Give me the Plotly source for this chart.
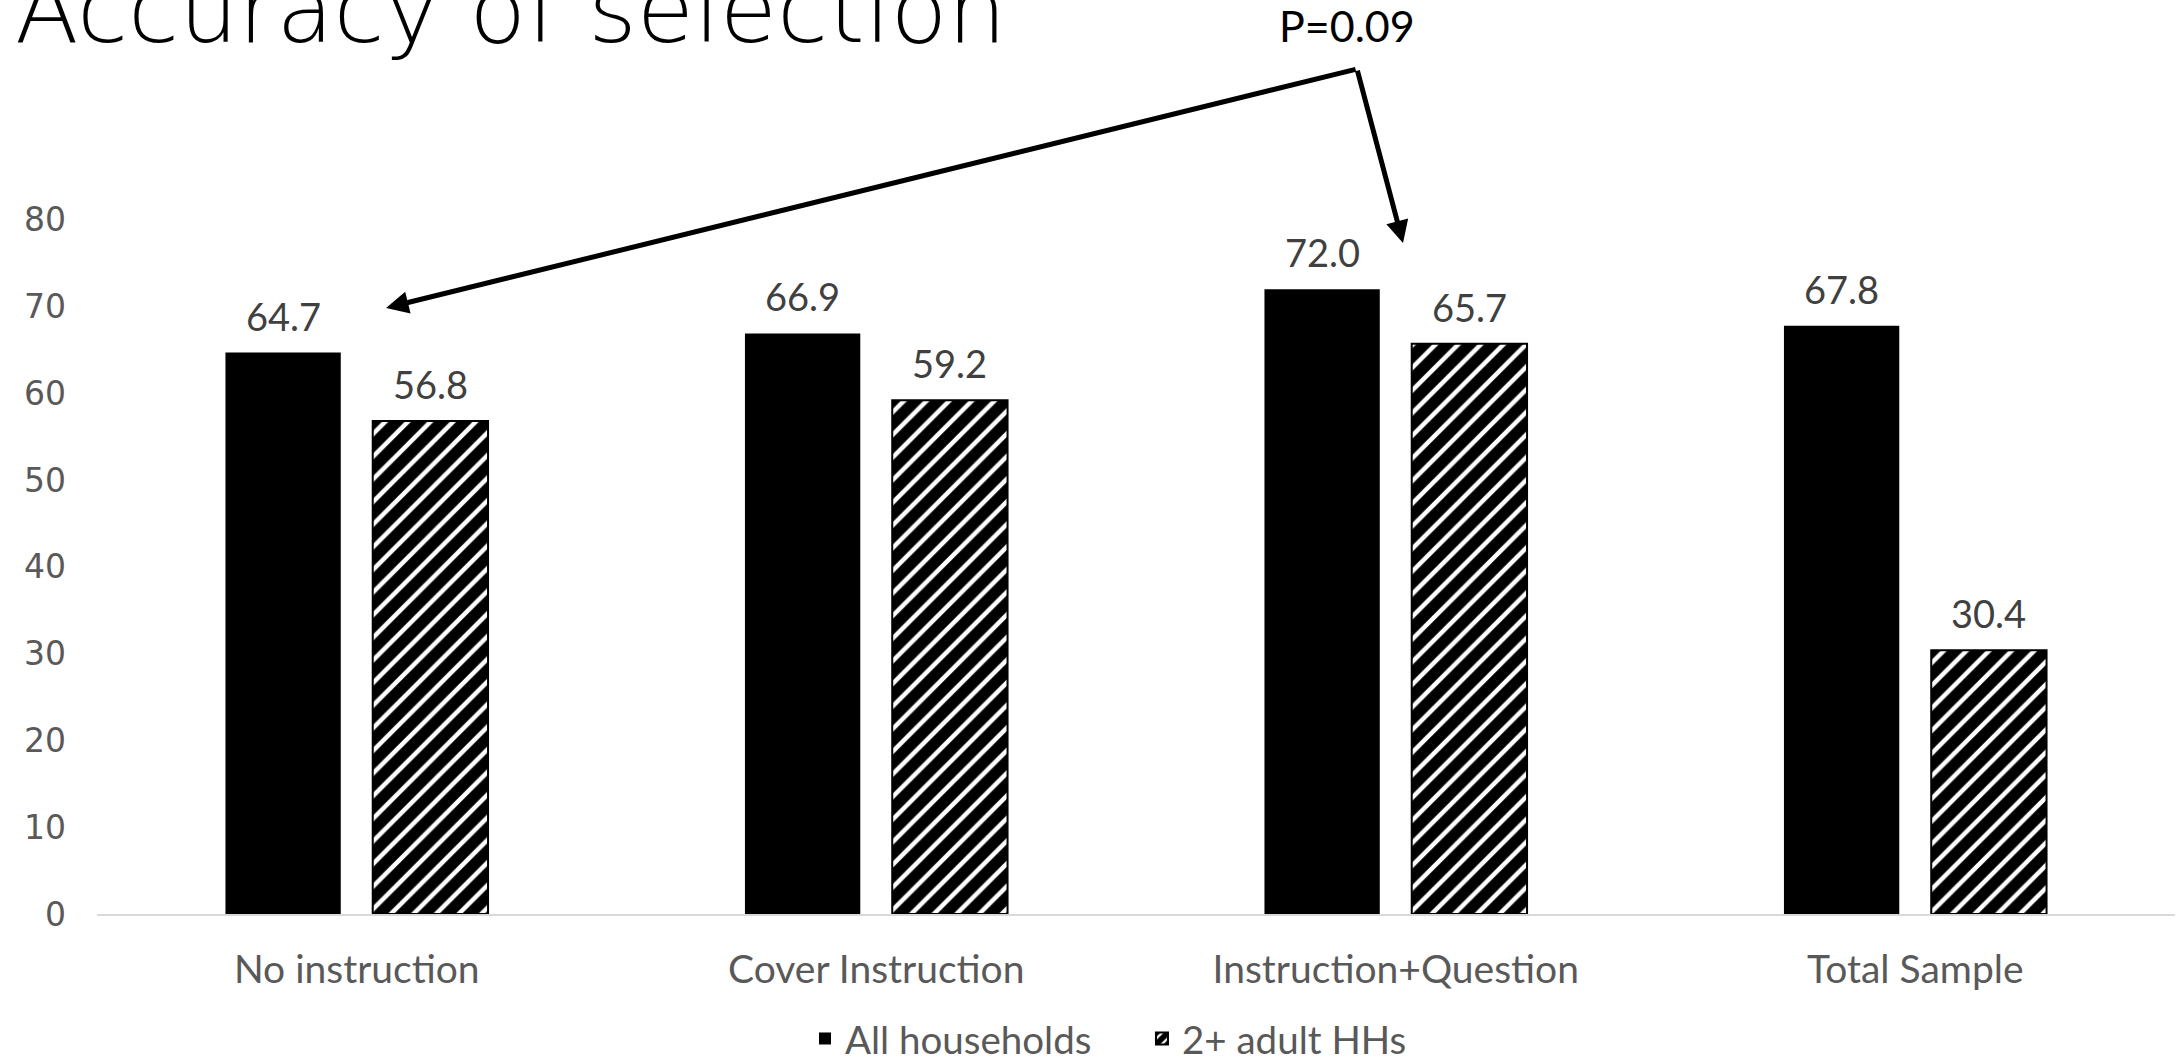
import plotly.graph_objects as go

# Survey results: accuracy of respondent selection by instruction condition
categories = ["No instruction", "Cover Instruction", "Instruction+Question", "Total Sample"]
all_households = [64.7, 66.9, 72.0, 67.8]
adult_hhs = [56.8, 59.2, 65.7, 30.4]
series_names = ["All households", "2+ adult HHs"]
y_ticks = [0, 10, 20, 30, 40, 50, 60, 70, 80]

W, H = 2178, 1061
M_L, M_R, M_T, M_B = 97, 3, 133, 147
BARGAP, GROUPGAP = 0.433, 0.217
LABEL_FONT = "Lato"
GREY_TXT = "#595959"

fig = go.Figure()
fig.add_trace(go.Bar(
    x=categories, y=all_households, name=series_names[0],
    marker=dict(color="#000000", line=dict(color="#000000", width=0)),
))
fig.add_trace(go.Bar(
    x=categories, y=adult_hhs, name=series_names[1],
    marker=dict(
        color="#ffffff",
        line=dict(color="#000000", width=2),
        pattern=dict(shape="/", fgcolor="#000000", bgcolor="#ffffff",
                     fgopacity=1, size=16, solidity=0.72),
    ),
))

# value labels above each bar, offset to the bar's slot in its group
plot_w = W - M_L - M_R
cat_px = plot_w / len(categories)
slot_px = (1 - BARGAP) / 2 * cat_px
annotations = []
for vals, sign in ((all_households, -1), (adult_hhs, 1)):
    for cat, v in zip(categories, vals):
        annotations.append(dict(
            x=cat, y=v, xref="x", yref="y", text=f"{v:.1f}", showarrow=False,
            xshift=sign * slot_px / 2, yshift=12, yanchor="bottom",
            font=dict(family=LABEL_FONT, size=38, color="#404040"),
        ))

# title, partly running off the top edge
annotations.append(dict(
    x=-0.0405, y=1.158, xref="paper", yref="paper", xanchor="left", yanchor="middle",
    text="Accuracy of selection", showarrow=False,
    font=dict(family="DejaVu Sans", size=93, color="#000000", weight=200),
))
# significance note with bent arrow to the two compared bars
annotations.append(dict(
    x=0.6015, y=1.138, xref="paper", yref="paper", xanchor="center", yanchor="middle",
    text="P=0.09", showarrow=False,
    font=dict(family=LABEL_FONT, size=43, color="#000000"),
))
arrow_style = dict(showarrow=True, arrowhead=2, arrowsize=0.9, arrowwidth=5,
                   arrowcolor="#000000", xref="paper", yref="paper", text="",
                   axref="pixel", ayref="pixel")
annotations.append(dict(x=0.1391, y=0.776, ax=971, ay=-239, **arrow_style))
annotations.append(dict(x=0.6285, y=0.859, ax=-46, ay=-174, **arrow_style))

fig.update_layout(
    width=W, height=H,
    margin=dict(l=M_L, r=M_R, t=M_T, b=M_B, autoexpand=False),
    paper_bgcolor="#ffffff", plot_bgcolor="#ffffff",
    barmode="group", bargap=BARGAP, bargroupgap=GROUPGAP,
    annotations=annotations,
    showlegend=True,
    legend=dict(orientation="h", x=0.3407, y=-0.16, xanchor="left", yanchor="middle",
                font=dict(family=LABEL_FONT, size=38.5, color=GREY_TXT),
                itemwidth=30, entrywidth=292, entrywidthmode="pixels"),
    xaxis=dict(
        showline=True, linecolor="#d9d9d9", linewidth=2, showgrid=False, ticks="",
        tickfont=dict(family=LABEL_FONT, size=39, color=GREY_TXT),
        ticklabelstandoff=20, automargin=False,
    ),
    yaxis=dict(
        range=[0, 90], tickvals=y_ticks, showgrid=False, zeroline=False, showline=False,
        ticks="", tickfont=dict(family="DejaVu Sans", size=33, color=GREY_TXT),
        ticklabelstandoff=30, automargin=False,
    ),
)

fig.write_html("out.html")
